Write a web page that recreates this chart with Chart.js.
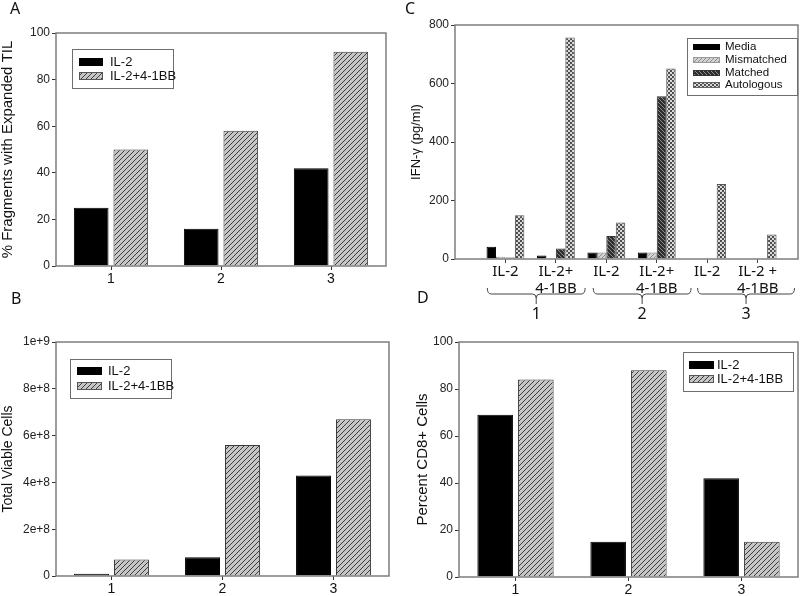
<!DOCTYPE html>
<html>
<head>
<meta charset="utf-8">
<script src="https://cdn.jsdelivr.net/npm/chart.js@4.4.1/dist/chart.umd.min.js"></script>
<style>
  body { margin: 0; background: #fff; }
  #wrap { position: relative; width: 800px; height: 596px; overflow: hidden; }
  canvas { position: absolute; }
  .panel { position: absolute; font: 16px 'Noto Sans', sans-serif; line-height: 16px; color: #111; }
</style>
</head>
<body>
<div id="wrap">
  <canvas id="chartA" width="400" height="290" style="left:0;top:0"></canvas>
  <canvas id="chartB" width="400" height="306" style="left:0;top:290px"></canvas>
  <canvas id="chartC" width="400" height="330" style="left:400px;top:0"></canvas>
  <canvas id="chartD" width="400" height="306" style="left:400px;top:290px"></canvas>
  <div class="panel" style="left:10px;top:0">A</div>
  <div class="panel" style="left:11px;top:290px">B</div>
  <div class="panel" style="left:405px;top:0">C</div>
  <div class="panel" style="left:417px;top:289px">D</div>
</div>
<script>
// ── Data ──────────────────────────────────────────────────
const CATS      = ['1', '2', '3'];
const FRAG_IL2  = [25, 16, 42];
const FRAG_BB   = [50, 58, 92];
const CELLS_IL2 = [1e7, 8e7, 4.3e8];
const CELLS_BB  = [7e7, 5.6e8, 6.7e8];
const CD8_IL2   = [69, 15, 42];
const CD8_BB    = [84, 88, 15];

const IFN_LABELS     = [['IL-2'], ['IL-2+', '4-1BB'], ['IL-2'], ['IL-2+', '4-1BB'], ['IL-2'], ['IL-2 +', '4-1BB']];
const IFN_MEDIA      = [42, 12, 22, 22, 0, 0];
const IFN_MISMATCHED = [8, 0, 22, 22, 0, 0];
const IFN_MATCHED    = [5, 36, 79, 556, 0, 0];
const IFN_AUTO       = [150, 757, 125, 651, 256, 84];
const PATIENTS       = ['1', '2', '3'];

Chart.defaults.font.family = "'Liberation Sans', Arial, sans-serif";
Chart.defaults.color = '#111';

// ── Fill patterns ─────────────────────────────────────────
function makePattern(size, bg, draw) {
  const tile = document.createElement('canvas');
  tile.width = tile.height = size;
  const t = tile.getContext('2d');
  t.fillStyle = bg; t.fillRect(0, 0, size, size);
  draw(t, size);
  return document.createElement('canvas').getContext('2d').createPattern(tile, 'repeat');
}
function diag(color, dir) {
  return (t, s) => {
    t.strokeStyle = color; t.lineWidth = 1; t.beginPath();
    if (dir > 0) {
      t.moveTo(0, s); t.lineTo(s, 0); t.moveTo(-1, 1); t.lineTo(1, -1); t.moveTo(s - 1, s + 1); t.lineTo(s + 1, s - 1);
    } else {
      t.moveTo(0, 0); t.lineTo(s, s); t.moveTo(-1, s - 1); t.lineTo(1, s + 1); t.moveTo(s - 1, -1); t.lineTo(s + 1, 1);
    }
    t.stroke();
  };
}
const HATCH      = makePattern(5, '#c6c6c6', diag('#3c3c3c', 1));
const HATCH_LITE = makePattern(4, '#d4d4d4', diag('#8a8a8a', 1));
const HATCH_DARK = makePattern(4, '#2e2e2e', diag('#8c8c8c', -1));
const CHECKER    = makePattern(4, '#dadada', t => {
  t.fillStyle = '#4e4e4e'; t.fillRect(0, 0, 2, 2); t.fillRect(2, 2, 2, 2);
});

// ── Plugins ───────────────────────────────────────────────
const frame = {
  id: 'frame',
  afterDatasetsDraw(chart) {
    const { ctx, chartArea: a } = chart;
    ctx.save();
    ctx.strokeStyle = '#7d7d7d'; ctx.lineWidth = 1.5;
    ctx.strokeRect(a.left, a.top, a.right - a.left, a.bottom - a.top);
    ctx.restore();
  },
};

const boxLegend = {
  id: 'boxLegend',
  afterDraw(chart, args, o) {
    if (!o || o.x === undefined) return;
    const c = chart.ctx;
    c.save();
    c.fillStyle = '#fff'; c.fillRect(o.x, o.y, o.w, o.h);
    c.strokeStyle = '#6e6e6e'; c.lineWidth = 1;
    c.strokeRect(o.x + 0.5, o.y + 0.5, o.w, o.h);
    chart.data.datasets.forEach((ds, i) => {
      const y = o.rows[i];
      c.fillStyle = ds.backgroundColor;
      c.fillRect(o.sx, y - o.sh / 2, o.sw, o.sh);
      c.strokeStyle = ds.legendBorder || '#333';
      c.strokeRect(o.sx + 0.5, y - o.sh / 2 + 0.5, o.sw - 1, o.sh - 1);
      c.fillStyle = '#111'; c.font = o.font; c.textBaseline = 'middle'; c.textAlign = 'left';
      c.fillText(ds.label, o.tx, y);
    });
    c.restore();
  },
};

const braces = {
  id: 'braces',
  afterDraw(chart, args, o) {
    const c = chart.ctx, x = chart.scales.x;
    c.save();
    c.strokeStyle = '#444'; c.lineWidth = 1;
    c.fillStyle = '#111'; c.font = "16px 'Noto Sans'"; c.textAlign = 'center'; c.textBaseline = 'middle';
    o.spans.forEach(([a, b], i) => {
      const L = x.getPixelForValue(a), R = x.getPixelForValue(b), C = (L + R) / 2;
      c.beginPath();
      c.moveTo(L, o.top); c.quadraticCurveTo(L, o.mid, L + 4, o.mid); c.lineTo(C - 4, o.mid);
      c.quadraticCurveTo(C, o.mid, C, o.mid + 4); c.lineTo(C, o.tip);
      c.moveTo(R, o.top); c.quadraticCurveTo(R, o.mid, R - 4, o.mid); c.lineTo(C + 4, o.mid);
      c.quadraticCurveTo(C, o.mid, C, o.mid + 4);
      c.stroke();
      c.fillText(PATIENTS[i], C, o.textY);
    });
    c.restore();
  },
};

// ── Two-series charts (A, B, D) ───────────────────────────
function pairChart(id, cfg) {
  const yTicks = { stepSize: cfg.step, font: { size: 12 }, padding: 2, color: '#222' };
  if (cfg.fmt) yTicks.callback = cfg.fmt;
  return new Chart(document.getElementById(id), {
    type: 'bar',
    data: {
      labels: CATS,
      datasets: [
        { label: 'IL-2', data: cfg.il2, backgroundColor: '#000', borderColor: '#000', borderWidth: 1, legendBorder: '#000' },
        { label: 'IL-2+4-1BB', data: cfg.bb, backgroundColor: HATCH, borderColor: '#3a3a3a', borderWidth: 1, legendBorder: '#555' },
      ],
    },
    options: {
      responsive: false, animation: false,
      categoryPercentage: 0.72, barPercentage: 0.875,
      layout: { padding: { top: cfg.top, right: cfg.right, left: 0, bottom: 0 } },
      plugins: { legend: { display: false }, tooltip: { enabled: false }, boxLegend: cfg.legend },
      scales: {
        x: {
          grid: { drawOnChartArea: false, offset: false, tickLength: 4, color: '#333' },
          border: { display: false },
          ticks: { font: { size: 14 }, padding: 1, color: '#111' },
          afterFit: s => { s.height = cfg.xh; },
        },
        y: {
          min: 0, max: cfg.max,
          ticks: yTicks,
          grid: { drawOnChartArea: false, tickLength: 4, color: '#333' },
          border: { display: false },
          title: { display: true, text: cfg.title, font: { size: cfg.titleSize, lineHeight: 1 }, padding: { top: cfg.titlePad, bottom: 0 }, color: '#111' },
          afterFit: s => { s.width = cfg.left; },
        },
      },
    },
    plugins: [frame, boxLegend],
  });
}

pairChart('chartA', {
  il2: FRAG_IL2, bb: FRAG_BB, max: 100, step: 20,
  title: '% Fragments with Expanded TIL', titleSize: 15, titlePad: 0,
  left: 56, top: 33, right: 14, xh: 24,
  legend: { x: 72, y: 49, w: 101, h: 39, sx: 79, sw: 24, sh: 8, tx: 110, rows: [62, 76], font: "13px 'Liberation Sans'" },
});

pairChart('chartB', {
  il2: CELLS_IL2, bb: CELLS_BB, max: 1e9, step: 2e8,
  fmt: v => v === 0 ? '0' : v.toExponential(),
  title: 'Total Viable Cells', titleSize: 14, titlePad: 1,
  left: 56, top: 52, right: 11, xh: 20,
  legend: { x: 70, y: 69, w: 101, h: 39, sx: 77, sw: 25, sh: 8, tx: 108, rows: [81, 96], font: "13px 'Liberation Sans'" },
});

pairChart('chartD', {
  il2: CD8_IL2, bb: CD8_BB, max: 100, step: 20,
  title: 'Percent CD8+ Cells', titleSize: 15, titlePad: 15,
  left: 59, top: 52, right: 2, xh: 19,
  legend: { x: 283, y: 62, w: 110, h: 39, sx: 289, sw: 25, sh: 8, tx: 317, rows: [75, 89], font: "13px 'Liberation Sans'" },
});

// ── IFN-γ chart (C) ───────────────────────────────────────
const ifnBorder = c => (c.raw ? 1 : 0);
new Chart(document.getElementById('chartC'), {
  type: 'bar',
  data: {
    labels: IFN_LABELS.map((_, i) => i + 1),
    datasets: [
      { label: 'Media', data: IFN_MEDIA, backgroundColor: '#000', borderColor: '#000', borderWidth: ifnBorder, legendBorder: '#000' },
      { label: 'Mismatched', data: IFN_MISMATCHED, backgroundColor: HATCH_LITE, borderColor: '#777', borderWidth: ifnBorder, legendBorder: '#999' },
      { label: 'Matched', data: IFN_MATCHED, backgroundColor: HATCH_DARK, borderColor: '#333', borderWidth: ifnBorder, legendBorder: '#333' },
      { label: 'Autologous', data: IFN_AUTO, backgroundColor: CHECKER, borderColor: '#555', borderWidth: ifnBorder, legendBorder: '#666' },
    ],
  },
  options: {
    responsive: false, animation: false,
    categoryPercentage: 0.75, barPercentage: 1,
    layout: { padding: { top: 25, right: 2, left: 0, bottom: 0 } },
    plugins: {
      legend: { display: false }, tooltip: { enabled: false },
      boxLegend: { x: 287, y: 38, w: 110, h: 57, sx: 293, sw: 27, sh: 6, tx: 325, rows: [47, 60, 73, 85], font: "11.5px 'Liberation Sans'" },
      braces: { spans: [[0.64, 2.58], [2.74, 4.68], [4.81, 6.73]], top: 288, mid: 294, tip: 304, textY: 314 },
    },
    scales: {
      x: {
        type: 'linear', min: 0, max: 6.8, offset: false,
        afterBuildTicks: s => { s.ticks = IFN_LABELS.map((_, i) => ({ value: i + 1 })); },
        ticks: { callback: v => IFN_LABELS[v - 1] || '', font: { family: "'Noto Sans'", size: 15, lineHeight: 1.15 }, padding: 0, maxRotation: 0, autoSkip: false, color: '#111' },
        grid: { drawOnChartArea: false, offset: false, tickLength: 4, color: '#444' },
        border: { display: false },
        afterFit: s => { s.height = 71; },
      },
      y: {
        min: 0, max: 800,
        ticks: { stepSize: 200, font: { size: 12 }, padding: 2, color: '#222' },
        grid: { drawOnChartArea: false, tickLength: 4, color: '#333' },
        border: { display: false },
        title: { display: true, text: 'IFN-γ (pg/ml)', font: { size: 13, lineHeight: 1 }, padding: { top: 10, bottom: 0 }, color: '#111' },
        afterFit: s => { s.width = 55; },
      },
    },
  },
  plugins: [frame, boxLegend, braces],
});
</script>
</body>
</html>
